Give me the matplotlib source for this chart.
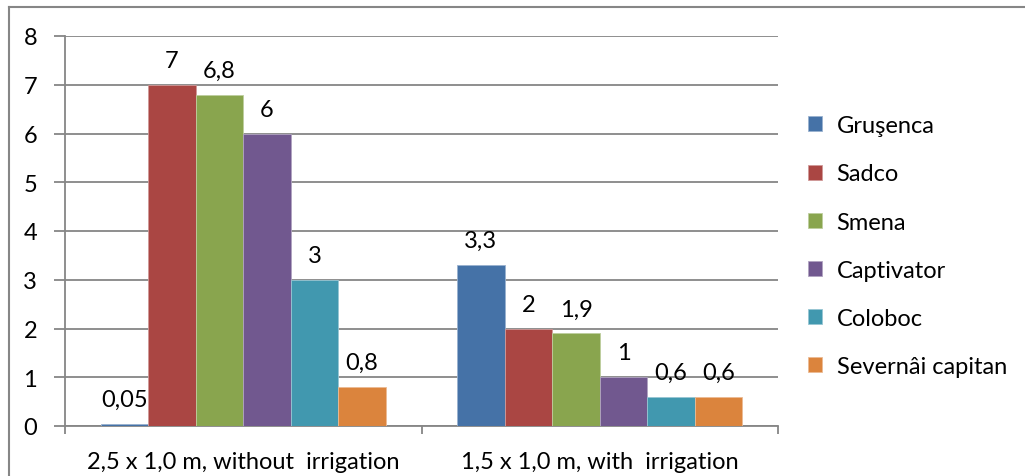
import matplotlib.pyplot as plt
import numpy as np
from matplotlib.lines import Line2D
from matplotlib.colors import to_rgb

plt.rcParams['font.family'] = ['Lato', 'DejaVu Sans']

# data
groups = ["2,5 x 1,0 m, without  irrigation", "1,5 x 1,0 m, with  irrigation"]
varieties = ["Gruşenca", "Sadco", "Smena", "Captivator", "Coloboc", "Severnâi capitan"]
values_no_irr = [0.05, 7, 6.8, 6, 3, 0.8]
values_irr = [3.3, 2, 1.9, 1, 0.6, 0.6]
colors = ["#4572A7", "#AA4643", "#89A54E", "#71588F", "#4198AF", "#DB843D"]

fig = plt.figure(figsize=(10.25, 4.77), dpi=100)
ax = fig.add_axes([65 / 1025, 1 - 427 / 477, (778 - 65) / 1025, (427 - 37) / 477])

x = np.arange(len(groups))
width = 1 / 7.5
fs = 17


def fmt(v):
    s = ("%g" % v).replace(".", ",")
    return s


def lighter(c, f=0.45):
    r, g, b = to_rgb(c)
    return (r + (1 - r) * f, g + (1 - g) * f, b + (1 - b) * f)


for i, name in enumerate(varieties):
    vals = [values_no_irr[i], values_irr[i]]
    pos = x + (i - 2.5) * width
    bars = ax.bar(pos, vals, width, color=colors[i], edgecolor=lighter(colors[i]),
                  linewidth=0.6, label=name, zorder=3)
    for b, v in zip(bars, vals):
        ax.annotate(fmt(v), (b.get_x() + b.get_width() / 2, v),
                    xytext=(0, 10), textcoords="offset points",
                    ha="center", va="bottom", fontsize=fs)

ax.set_xlim(-0.5, 1.5)
ax.set_ylim(0, 8)
ax.set_yticks(range(0, 9))
ax.yaxis.grid(True, color="#868686", linewidth=1.3, zorder=0)
ax.set_xticks(x)
ax.set_xticklabels(groups, fontsize=fs)
ax.set_xticks([-0.5, 0.5, 1.5], minor=True)
ax.tick_params(axis="x", which="major", length=0, pad=18)
ax.tick_params(axis="x", which="minor", length=6, width=1.3, color="#868686", direction="out")
ax.tick_params(axis="y", length=8, width=1.3, color="#868686", direction="out",
               labelsize=fs, pad=12)

for side in ["top", "right"]:
    ax.spines[side].set_visible(False)
for side in ["left", "bottom"]:
    ax.spines[side].set_color("#868686")
    ax.spines[side].set_linewidth(1.3)

fig.legend(loc="upper left", bbox_to_anchor=(787 / 1025, 1 - 95 / 477),
           frameon=False, fontsize=fs, handlelength=0.6, handleheight=0.6,
           handletextpad=0.6, labelspacing=1.15)

# outer chart frame
fig.add_artist(Line2D([9 / 1025, 9 / 1025], [0, 1 - 8 / 477], transform=fig.transFigure,
                      color="#868686", linewidth=1.5))
fig.add_artist(Line2D([9 / 1025, 1], [1 - 8 / 477, 1 - 8 / 477], transform=fig.transFigure,
                      color="#868686", linewidth=1.5))

fig.savefig("out.png", dpi=100)
